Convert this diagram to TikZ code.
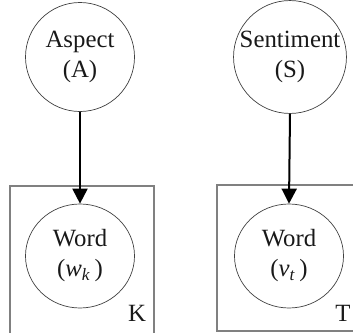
\documentclass[tikz,border=0pt]{standalone}
\usepackage{fontspec}
\setmainfont{Liberation Serif}
\usetikzlibrary{arrows.meta,shapes.geometric}
\begin{document}
\begin{tikzpicture}[x=0.5pt,y=-0.5pt,
  txt/.style={font=\fontsize{12.4}{15}\selectfont, text=black!90},
  var/.style={circle, draw=black!75, line width=0.35pt, minimum size=54.5pt, inner sep=0pt, align=center, txt},
  wvar/.style={ellipse, draw=black!75, line width=0.35pt, minimum width=54.5pt, minimum height=52pt, inner sep=0pt, align=center, txt},
  plate/.style={draw=black!50, line width=0.6pt},
  edge/.style={line width=1pt, -{Triangle[width=7.5pt,length=7.5pt]}}]
\useasboundingbox (0,0) rectangle (353,332);
\clip (0,0) rectangle (353,332);
\draw[plate] (10,345) -- (10,186) -- (154,186) -- (154,345);
\draw[plate] (217,185) rectangle (365,331);
\node[var] (A) at (80,57) {Aspect\\(A)};
\node[var] (S) at (290,57) {Sentiment\\(S)};
\node[wvar] (W) at (80,256) {Word\\(\textit{w\textsubscript{k}}\,)};
\node[wvar] (V) at (289,256) {Word\\(\textit{v\textsubscript{t}}\,)};
\node[txt] (K) at (137,313) {K};
\node[txt] (T) at (343,313) {T};
\draw[edge] (A.south) -- (W.north);
\draw[edge] (S.south) -- (V.north);
\end{tikzpicture}
\end{document}
